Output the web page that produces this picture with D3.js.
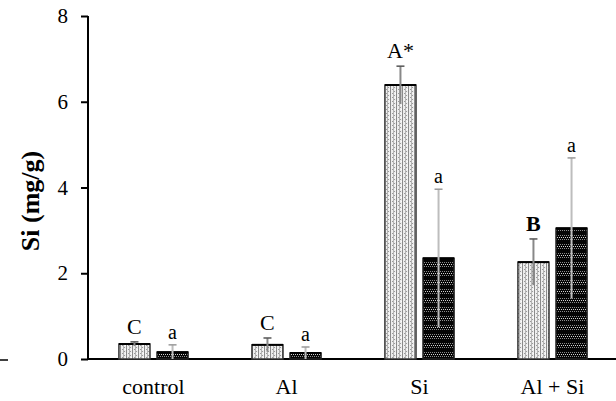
<!DOCTYPE html>
<html>
<head>
<meta charset="utf-8">
<script src="https://cdn.jsdelivr.net/npm/d3@7"></script>
<style>
  body { margin: 0; background: #fff; }
</style>
</head>
<body>
<div id="chart"></div>
<script>
// chart data
const categories = ["control", "Al", "Si", "Al + Si"];
const series = ["light", "dark"];
const lightValues = [0.35, 0.33, 6.39, 2.26];
const lightErrors = [0.05, 0.16, 0.44, 0.54];
const lightLabels = ["C", "C", "A*", "B"];
const darkValues = [0.16, 0.14, 2.35, 3.05];
const darkErrors = [0.17, 0.14, 1.61, 1.64];
const darkLabels = ["a", "a", "a", "a"];
const yTicks = [0, 2, 4, 6, 8];

const FONT = "'Liberation Serif', 'Times New Roman', Times, serif";
const W = 616, H = 401;
const svg = d3.select("#chart").append("svg")
    .attr("width", W)
    .attr("height", H)
    .style("font-family", FONT);

// fill textures for the two bar types
const defs = svg.append("defs");
const pl = defs.append("pattern").attr("id", "pLight")
    .attr("patternUnits", "userSpaceOnUse").attr("width", 6).attr("height", 4);
pl.append("rect").attr("width", 6).attr("height", 4).attr("fill", "#eeeeee");
pl.append("rect").attr("x", 0).attr("width", 1).attr("height", 4).attr("fill", "#8a8a8a");
pl.append("rect").attr("x", 3).attr("width", 1).attr("height", 4).attr("fill", "#b5b5b5");
pl.append("rect").attr("x", 2).attr("y", 1).attr("width", 1).attr("height", 1).attr("fill", "#999");
pl.append("rect").attr("x", 4).attr("y", 3).attr("width", 1).attr("height", 1).attr("fill", "#999");
pl.append("rect").attr("x", 5).attr("y", 1).attr("width", 1).attr("height", 1).attr("fill", "#fff");

// dark bars: black with bands of small light dots
const pd = defs.append("pattern").attr("id", "pDark")
    .attr("patternUnits", "userSpaceOnUse").attr("width", 4).attr("height", 9);
pd.append("rect").attr("width", 4).attr("height", 9).attr("fill", "#050505");
[[0, 1], [2, 1], [1, 3], [3, 3], [0, 5], [2, 5]].forEach(([x, yy]) => {
  pd.append("rect").attr("x", x).attr("y", yy).attr("width", 1).attr("height", 1)
    .attr("fill", yy == 3 ? "#d0d0d0" : "#8c8c8c");
});

const x0 = d3.scaleBand().domain(categories).range([87, 619]).paddingInner(0.48).paddingOuter(0.24);
const x1 = d3.scaleBand().domain(series).range([0, x0.bandwidth()]).paddingInner(0.184);
const y = d3.scaleLinear().domain([0, 8]).range([359, 16]);

// y axis
const yAxis = svg.append("g")
    .attr("transform", "translate(88,0)")
    .call(d3.axisLeft(y).tickValues(yTicks).tickSize(7).tickPadding(13).tickFormat(d3.format("d")));
yAxis.attr("font-family", null).attr("font-size", null);
yAxis.select(".domain").attr("stroke-width", 2).attr("d", "M0,16V359");
yAxis.selectAll(".tick line").attr("stroke-width", 2);
yAxis.selectAll(".tick text").style("font-size", "21px").style("font-family", FONT);

// x axis baseline
svg.append("line")
    .attr("x1", 88).attr("x2", 616)
    .attr("y1", y(0)).attr("y2", y(0))
    .attr("stroke", "#000").attr("stroke-width", 2);
// small stray dash at the far left
svg.append("line")
    .attr("x1", 0).attr("x2", 8).attr("y1", 360).attr("y2", 360)
    .attr("stroke", "#000").attr("stroke-width", 1.5);

// category labels
svg.selectAll(".cat").data(categories).join("text")
    .attr("class", "cat")
    .attr("x", d => x0(d) + x0.bandwidth() / 2)
    .attr("y", 394)
    .attr("text-anchor", "middle")
    .style("font-family", FONT)
    .style("font-size", "22px")
    .text(d => d);

// y label
svg.append("text")
    .attr("transform", "translate(39,201) rotate(-90)")
    .attr("text-anchor", "middle")
    .style("font-family", FONT)
    .style("font-size", "26px")
    .style("font-weight", "bold")
    .text("Si (mg/g)");

const bars = [];
categories.forEach((c, i) => {
  bars.push({cat: c, s: "light", v: lightValues[i], e: lightErrors[i], lab: lightLabels[i]});
  bars.push({cat: c, s: "dark", v: darkValues[i], e: darkErrors[i], lab: darkLabels[i]});
});

const g = svg.append("g");
g.selectAll("rect.bar").data(bars).join("rect")
    .attr("class", "bar")
    .attr("x", d => x0(d.cat) + x1(d.s))
    .attr("y", d => y(d.v))
    .attr("width", x1.bandwidth())
    .attr("height", d => y(0) - y(d.v))
    .attr("fill", d => d.s == "light" ? "url(#pLight)" : "url(#pDark)")
    .attr("stroke", d => d.s == "light" ? "#333" : "#222")
    .attr("stroke-width", 1.5);
// darker top edge
g.selectAll("line.top").data(bars).join("line")
    .attr("class", "top")
    .attr("x1", d => x0(d.cat) + x1(d.s))
    .attr("x2", d => x0(d.cat) + x1(d.s) + x1.bandwidth())
    .attr("y1", d => y(d.v)).attr("y2", d => y(d.v))
    .attr("stroke", "#000").attr("stroke-width", 2);

// error bars
const cx = d => x0(d.cat) + x1(d.s) + x1.bandwidth() / 2;
g.selectAll("line.err").data(bars).join("line")
    .attr("class", "err")
    .attr("x1", cx).attr("x2", cx)
    .attr("y1", d => y(Math.max(0, d.v - d.e)))
    .attr("y2", d => y(d.v + d.e))
    .attr("stroke", d => d.s == "light" ? "#888" : "#bdbdbd")
    .attr("stroke-width", 2);
g.selectAll("line.cap").data(bars).join("line")
    .attr("class", "cap")
    .attr("x1", d => cx(d) - 4).attr("x2", d => cx(d) + 4)
    .attr("y1", d => y(d.v + d.e)).attr("y2", d => y(d.v + d.e))
    .attr("stroke", d => d.s == "light" ? "#555" : "#999")
    .attr("stroke-width", 1.5);

// significance letters
g.selectAll("text.lab").data(bars).join("text")
    .attr("class", "lab")
    .attr("x", cx)
    .attr("y", d => y(d.v + d.e) - (d.s == "light" ? 8 : 6))
    .attr("text-anchor", "middle")
    .style("font-family", FONT)
    .style("font-size", d => d.s == "light" ? "22px" : "20px")
    .style("font-weight", d => d.lab == "B" ? "bold" : "normal")
    .text(d => d.lab);
</script>
</body>
</html>
